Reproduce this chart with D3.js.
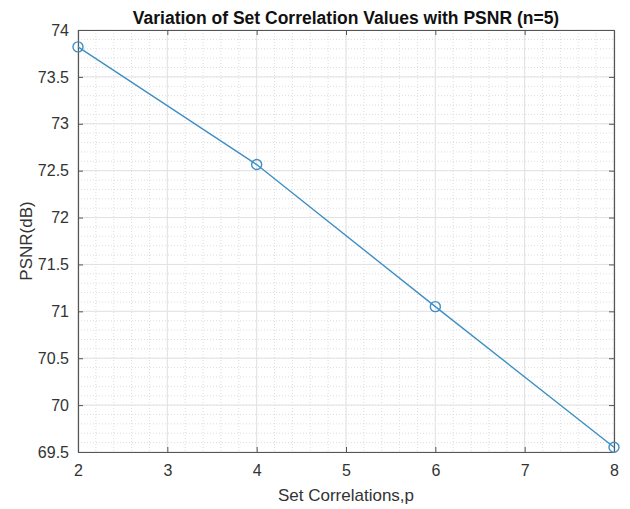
<!DOCTYPE html>
<html><head><meta charset="utf-8">
<script src="https://cdn.jsdelivr.net/npm/d3@7"></script>
<style>body{margin:0;background:#fff}svg{display:block;font-family:"Liberation Sans",Arial,sans-serif}</style>
</head><body><svg id="c" width="630" height="509"></svg>
<script>
const xValues = [2, 4, 6, 8];
const psnrValues = [73.82, 72.565, 71.05, 69.55];
const xTicks = [2, 3, 4, 5, 6, 7, 8];
const yTicks = [69.5, 70, 70.5, 71, 71.5, 72, 72.5, 73, 73.5, 74];
const titleText = "Variation of Set Correlation Values with PSNR (n=5)";
const xLabel = "Set Correlations,p";
const yLabel = "PSNR(dB)";

const svg = d3.select("#c");
const L = 78, R = 614, T = 30, B = 452;
const x = d3.scaleLinear().domain([2, 8]).range([L, R]);
const y = d3.scaleLinear().domain([69.5, 74]).range([B, T]);

const xMinor = d3.range(2, 8.0001, 0.2).map(v => +v.toFixed(2));
const yMinor = d3.range(69.5, 74.0001, 0.1).map(v => +v.toFixed(2));

const g = svg.append("g");
g.selectAll(".mx").data(xMinor).join("line")
  .attr("x1", d => x(d)).attr("x2", d => x(d)).attr("y1", T).attr("y2", B)
  .attr("stroke", "#d4d4d4").attr("stroke-width", 0.8).attr("stroke-dasharray", "1,2");
g.selectAll(".my").data(yMinor).join("line")
  .attr("y1", d => y(d)).attr("y2", d => y(d)).attr("x1", L).attr("x2", R)
  .attr("stroke", "#d4d4d4").attr("stroke-width", 0.8).attr("stroke-dasharray", "1,2");
g.selectAll(".gx").data(xTicks).join("line")
  .attr("x1", d => x(d)).attr("x2", d => x(d)).attr("y1", T).attr("y2", B)
  .attr("stroke", "#e2e2e2").attr("stroke-width", 1);
g.selectAll(".gy").data(yTicks).join("line")
  .attr("y1", d => y(d)).attr("y2", d => y(d)).attr("x1", L).attr("x2", R)
  .attr("stroke", "#e2e2e2").attr("stroke-width", 1);

const axCol = "#333";
const xa = svg.append("g").attr("transform", `translate(0,${B})`)
  .call(d3.axisBottom(x).tickValues(xTicks).tickSizeInner(-5).tickSizeOuter(0).tickPadding(13).tickFormat(d3.format("")));
const xt = svg.append("g").attr("transform", `translate(0,${T})`)
  .call(d3.axisTop(x).tickValues(xTicks).tickSizeInner(-5).tickSizeOuter(0).tickFormat(""));
const ya = svg.append("g").attr("transform", `translate(${L},0)`)
  .call(d3.axisLeft(y).tickValues(yTicks).tickSizeInner(-5).tickSizeOuter(0).tickPadding(9).tickFormat(d3.format("")));
const yr = svg.append("g").attr("transform", `translate(${R},0)`)
  .call(d3.axisRight(y).tickValues(yTicks).tickSizeInner(-5).tickSizeOuter(0).tickFormat(""));
[xa, xt, ya, yr].forEach(a => {
  a.select(".domain").attr("stroke", "#555").attr("stroke-width", 1.2);
  a.selectAll(".tick line").attr("stroke", "#555");
  a.selectAll("text").attr("fill", axCol).style("font-size", "16px").style("font-family", "Liberation Sans, Arial, sans-serif");
});

const col = "#3f8fc4";
svg.append("path").datum(xValues.map((v, i) => [v, psnrValues[i]]))
  .attr("fill", "none").attr("stroke", col).attr("stroke-width", 1.4)
  .attr("d", d3.line().x(d => x(d[0])).y(d => y(d[1])));
svg.selectAll(".pt").data(xValues.map((v, i) => [v, psnrValues[i]])).join("circle")
  .attr("cx", d => x(d[0])).attr("cy", d => y(d[1])).attr("r", 5)
  .attr("fill", "none").attr("stroke", col).attr("stroke-width", 1.4);

svg.append("text").attr("x", (L + R) / 2).attr("y", 24).attr("text-anchor", "middle")
  .attr("fill", "#111").style("font-weight", "bold").style("font-size", "17.5px").text(titleText);
svg.append("text").attr("x", (L + R) / 2).attr("y", 501).attr("text-anchor", "middle")
  .attr("fill", axCol).style("font-size", "17px").text(xLabel);
svg.append("text").attr("transform", `translate(32,${(T + B) / 2}) rotate(-90)`).attr("text-anchor", "middle")
  .attr("fill", axCol).style("font-size", "17px").text(yLabel);
</script></body></html>
